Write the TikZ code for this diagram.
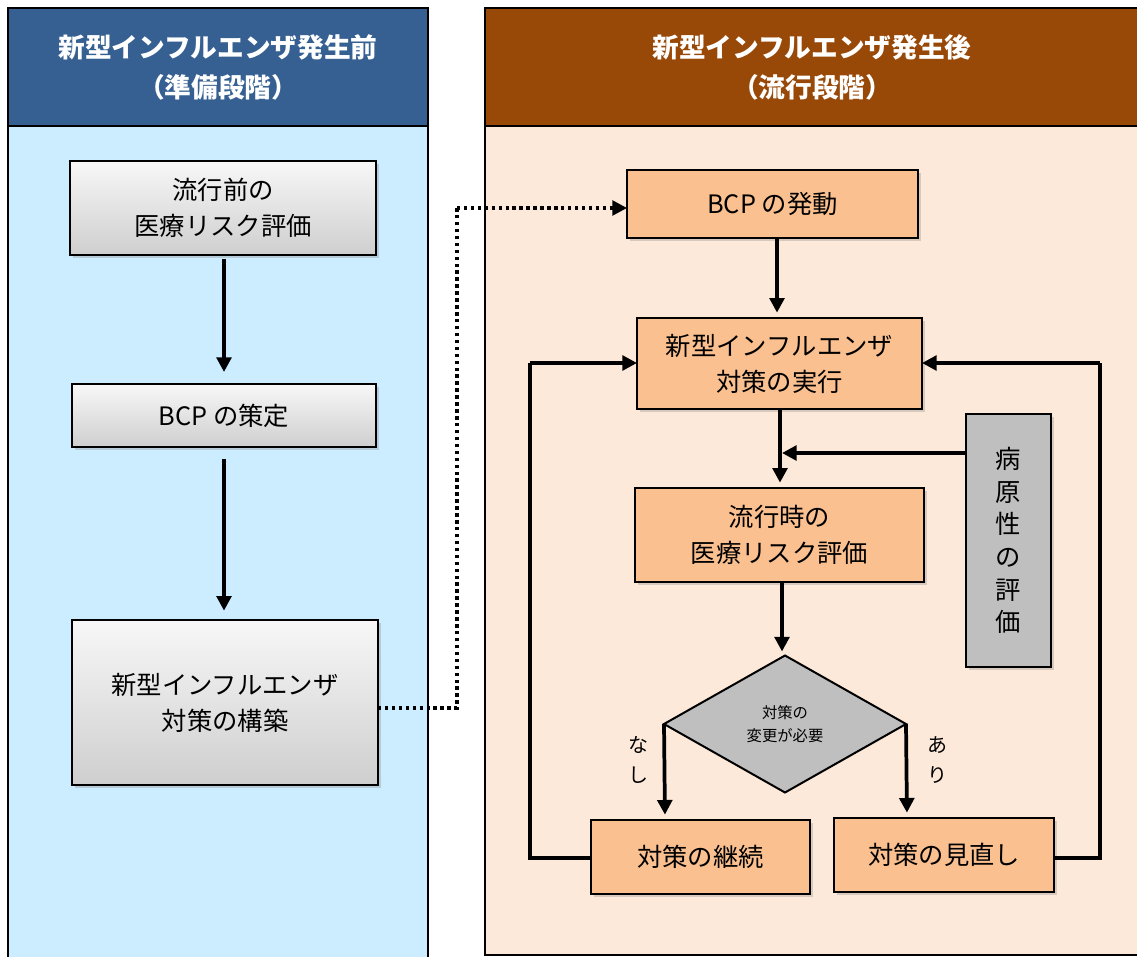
\documentclass[tikz,border=0pt]{standalone}
\usepackage{fontspec}
\setmainfont{Noto Sans CJK JP}
\setsansfont{Noto Sans CJK JP}
\usetikzlibrary{shapes.geometric,arrows.meta,shadows}
\definecolor{hdrblue}{HTML}{366092}
\definecolor{bodyblue}{HTML}{CCECFF}
\definecolor{hdrbrown}{HTML}{984807}
\definecolor{bodypeach}{HTML}{FDE9D9}
\definecolor{boxorange}{HTML}{FAC090}
\definecolor{boxgray}{HTML}{BFBFBF}
\tikzset{
  px/.style={x=0.75pt,y=-0.75pt},
  graybox/.style={draw=black,line width=1.5pt,top color=gray!6,bottom color=gray!38,inner sep=0pt,outer sep=0pt,align=center,font=\fontsize{19}{27}\selectfont,drop shadow={shadow xshift=2pt,shadow yshift=-2pt,opacity=0.3}},
  orangebox/.style={draw=black,line width=1.5pt,fill=boxorange,inner sep=0pt,outer sep=0pt,align=center,font=\fontsize{19}{27}\selectfont,drop shadow={shadow xshift=2pt,shadow yshift=-2pt,opacity=0.3}},
  hdrtext/.style={text=white,align=center,font=\bfseries\fontsize{20}{30}\selectfont},
  arr/.style={line width=2.8pt,-{Triangle[length=11pt,width=11pt]}},
  conn/.style={line width=2.8pt},
  dotconn/.style={line width=2.6pt,dash pattern=on 2.6pt off 2.6pt},
}
\begin{document}
\begin{tikzpicture}[px]
\useasboundingbox (0,0) rectangle (1137,956);
\fill[white] (0,0) rectangle (1137,956);
% left panel
\filldraw[fill=bodyblue,draw=black,line width=1pt] (8,126) rectangle (428,962);
\filldraw[fill=hdrblue,draw=black,line width=1pt] (8,8) rectangle (428,126);
\node[hdrtext] (lh) at (218,67) {新型インフルエンザ発生前\\（準備段階）};
% right panel
\filldraw[fill=bodypeach,draw=black,line width=1pt] (485,126) rectangle (1142,955);
\filldraw[fill=hdrbrown,draw=black,line width=1pt] (485,8) rectangle (1142,126);
\node[hdrtext] (rh) at (812,67) {新型インフルエンザ発生後\\（流行段階）};
% left boxes
\node[graybox,minimum width=306*0.75pt,minimum height=94*0.75pt] (a1) at (223,208) {流行前の\\医療リスク評価};
\node[graybox,minimum width=304*0.75pt,minimum height=63*0.75pt] (a2) at (224,415.5) {BCP の策定};
\node[graybox,minimum width=306*0.75pt,minimum height=165*0.75pt] (a3) at (225,702.5) {新型インフルエンザ\\対策の構築};
\coordinate (la1) at (224,259);
\coordinate (la2) at (224,459);
\draw[arr,shorten >=9pt] (la1) -- (la1 |- a2.north);
\draw[arr,shorten >=7pt] (la2) -- (la2 |- a3.north);
% right boxes
\node[orangebox,minimum width=291*0.75pt,minimum height=68*0.75pt] (b1) at (772.5,204) {BCP の発動};
\node[orangebox,minimum width=285*0.75pt,minimum height=91*0.75pt] (b2) at (779.5,363.5) {新型インフルエンザ\\対策の実行};
\node[orangebox,minimum width=289*0.75pt,minimum height=94*0.75pt] (b3) at (779.5,535) {流行時の\\医療リスク評価};
\node[draw=black,line width=1.5pt,fill=boxgray,shape=diamond,aspect=1.766,minimum width=181.5pt,minimum height=102.75pt,inner sep=0pt,outer sep=0pt,align=center,font=\fontsize{11.5}{17}\selectfont] (d) at (785,724) {対策の\\変更が必要};
\node[orangebox,minimum width=219*0.75pt,minimum height=74*0.75pt] (b4) at (700.5,857) {対策の継続};
\node[orangebox,minimum width=220*0.75pt,minimum height=74*0.75pt] (b5) at (944,855) {対策の見直し};
\node[draw=black,line width=1pt,fill=boxgray,inner sep=0pt,outer sep=0pt,minimum width=85*0.75pt,minimum height=253*0.75pt,align=center,font=\fontsize{19}{24.5}\selectfont,drop shadow={shadow xshift=2pt,shadow yshift=-2pt,opacity=0.3}] (s) at (1008.5,540.5) {病\\原\\性\\の\\評\\価};
% connectors
\coordinate (dl) at (457,708);
\coordinate (du) at (457,208);
\draw[dotconn] (a3.east |- dl) -- (dl) -- (du);
\draw[dotconn,-{Triangle[length=11pt,width=11pt]}] (du) -- (b1.west |- du);
\coordinate (rb1) at (777,238);
\draw[arr,shorten >=4pt] (rb1) -- (rb1 |- b2.north);
\coordinate (rb2) at (780,409);
\draw[arr,shorten >=4pt] (rb2) -- (rb2 |- b3.north);
\coordinate (sj) at (966,453);
\draw[arr] (s.west |- sj) -- (782,453);
\coordinate (rb3) at (782,582);
\draw[arr,shorten >=3pt] (rb3) -- (rb3 |- d.north);
\coordinate (dw) at (665,820);
\coordinate (de) at (907,818);
\draw[arr,shorten >=4pt] (d.west) -- (dw);
\draw[arr,shorten >=4pt] (d.east) -- (de);
\node[font=\fontsize{15}{22}\selectfont,align=center] (nl) at (638,760) {な\\し};
\node[font=\fontsize{15}{22}\selectfont,align=center] (al) at (937,760) {あ\\り};
\coordinate (l1) at (530,858);
\coordinate (l2) at (530,363);
\draw[conn] (b4.west |- l1) -- (l1) -- (l2);
\draw[arr] (l2) -- (b2.west |- l2);
\coordinate (r1) at (1100,858);
\coordinate (r2) at (1100,363);
\draw[conn] (b5.east |- r1) -- (r1) -- (r2);
\draw[arr] (r2) -- (b2.east |- r2);
\end{tikzpicture}
\end{document}
